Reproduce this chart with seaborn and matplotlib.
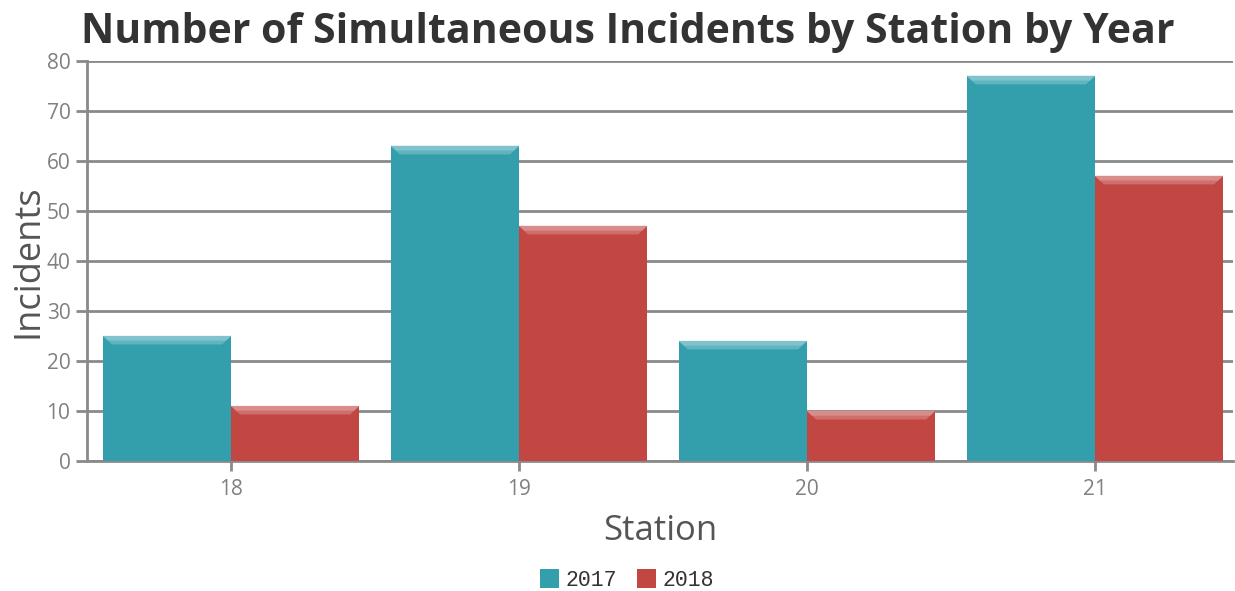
import pandas as pd
import seaborn as sns
import matplotlib.pyplot as plt
from matplotlib.patches import Polygon
from matplotlib.colors import to_rgb

# Data
stations = ['18', '19', '20', '21']
incidents_2017 = [25, 63, 24, 77]
incidents_2018 = [11, 47, 10, 57]
years = ['2017', '2018']
colors = ['#339FAD', '#C24642']

df = pd.DataFrame({
    'Station': stations * 2,
    'Incidents': incidents_2017 + incidents_2018,
    'Year': [years[0]] * len(stations) + [years[1]] * len(stations),
})

sns.set_style('white')
plt.rcParams['font.family'] = ['Open Sans', 'DejaVu Sans']

fig = plt.figure(figsize=(12.35, 5.91), dpi=100)
ax = fig.add_axes([0.0705, 0.22, 0.928, 0.677])

sns.barplot(data=df, x='Station', y='Incidents', hue='Year', order=stations,
            hue_order=years, palette=colors, width=0.89, gap=0,
            saturation=1, linewidth=0, ax=ax, zorder=3)

# Bevel highlight on top of each bar (two steps for a soft gradient)
for p in ax.patches:
    h = p.get_height()
    if h <= 0:
        continue
    x0 = p.get_x()
    w = p.get_width()
    base = to_rgb(p.get_facecolor())
    inset = w * 0.07
    band = 1.7
    for frac, amt in [(1.0, 0.22), (0.55, 0.38)]:
        light = tuple(c + (1 - c) * amt for c in base)
        b = band * frac
        i = inset * frac
        poly = Polygon([(x0, h), (x0 + w, h), (x0 + w - i, h - b), (x0 + i, h - b)],
                       closed=True, facecolor=light, edgecolor='none', zorder=4)
        ax.add_patch(poly)

ax.set_ylim(0, 80)
ax.set_xlim(-0.5, 3.48)
ax.set_yticks(range(0, 81, 10))
ax.yaxis.grid(True, color='#8a8a8a', linewidth=2, zorder=0)
ax.set_axisbelow(True)

for s in ['top', 'right']:
    ax.spines[s].set_visible(False)
for s in ['left', 'bottom']:
    ax.spines[s].set_color('#8a8a8a')
    ax.spines[s].set_linewidth(2)

ax.tick_params(axis='y', direction='out', length=8, width=2, color='#8a8a8a',
               labelsize=15, labelcolor='#808080', left=True, pad=4)
ax.tick_params(axis='x', direction='out', length=7, width=2, color='#8a8a8a',
               labelsize=15, labelcolor='#808080', bottom=True, pad=6)

ax.set_xlabel('Station', fontsize=25, color='#555555', labelpad=10)
ax.set_ylabel('Incidents', fontsize=26, color='#555555', labelpad=0)

fig.suptitle('Number of Simultaneous Incidents by Station by Year', fontsize=29.5,
             fontweight='bold', color='#333333', x=0.508, y=0.98)

leg = ax.legend(loc='center', bbox_to_anchor=(0.471, -0.2975), ncol=2, frameon=False,
                handlelength=0.9, handleheight=1.0, handletextpad=0.3, columnspacing=0.9,
                prop={'family': 'Liberation Mono', 'size': 15.5})
for t in leg.get_texts():
    t.set_color('#333333')

fig.savefig('out.png', dpi=100)
